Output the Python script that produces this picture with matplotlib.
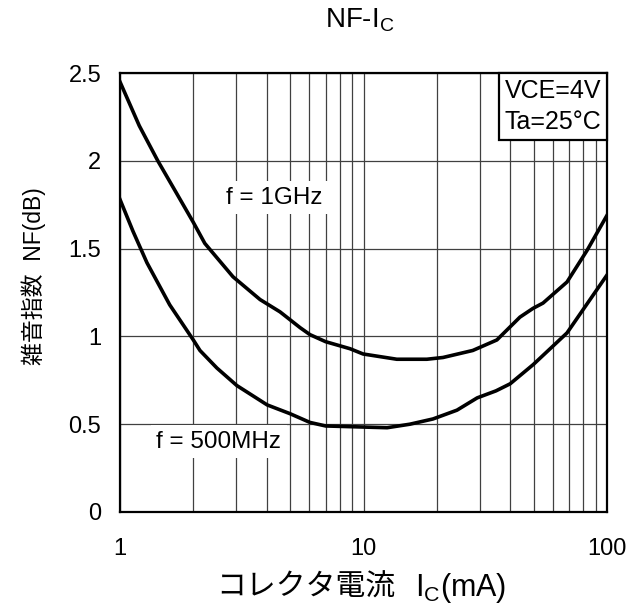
import matplotlib
matplotlib.use("Agg")
import matplotlib.pyplot as plt
from matplotlib.offsetbox import AnchoredText, AnchoredOffsetbox, TextArea, HPacker

plt.rcParams['font.family'] = ['Liberation Sans', 'Noto Sans CJK JP', 'DejaVu Sans']
plt.rcParams['mathtext.fontset'] = 'custom'
plt.rcParams['mathtext.rm'] = 'Liberation Sans'
plt.rcParams['mathtext.it'] = 'Liberation Sans'

# NF vs Ic
ic_1g = [1, 1.2, 1.43, 1.7, 2.0, 2.23, 2.91, 3.76, 4.54, 5.49, 6.03, 6.99, 8.8, 9.96,
         13.7, 18.2, 21.2, 28.1, 35.3, 43.9, 49.7, 54.6, 68.5, 82.8, 100]
nf_1g = [2.45, 2.2, 2.0, 1.82, 1.65, 1.53, 1.34, 1.21, 1.14, 1.05, 1.01, 0.97, 0.93, 0.90,
         0.87, 0.87, 0.88, 0.92, 0.98, 1.11, 1.16, 1.19, 1.31, 1.49, 1.69]

ic_500m = [1, 1.13, 1.29, 1.6, 2.0, 2.13, 2.5, 3.02, 4.02, 4.99, 6.03, 6.99, 12.5, 15.5,
           19.3, 24.2, 29.3, 35, 40, 49.8, 68.5, 100]
nf_500m = [1.78, 1.6, 1.42, 1.18, 0.98, 0.92, 0.82, 0.72, 0.61, 0.56, 0.51, 0.49, 0.48, 0.50,
           0.53, 0.58, 0.65, 0.69, 0.73, 0.84, 1.02, 1.35]

xticks = [1, 10, 100]
yticks = [0, 0.5, 1, 1.5, 2, 2.5]

fig = plt.figure(figsize=(6.41, 6.09), dpi=100)
ax = fig.add_axes([0.1872, 0.1593, 0.7598, 0.7207])

ax.plot(ic_1g, nf_1g, color='black', lw=2.6, solid_joinstyle='round', zorder=3)
ax.plot(ic_500m, nf_500m, color='black', lw=2.6, solid_joinstyle='round', zorder=3)

ax.set_xscale('log')
ax.set_xlim(1, 100)
ax.set_ylim(0, 2.5)
ax.set_xticks(xticks)
ax.set_xticklabels(['1', '10', '100'])
ax.set_yticks(yticks)
ax.set_yticklabels(['0', '0.5', '1', '1.5', '2', '2.5'])
ax.minorticks_on()
ax.yaxis.set_minor_locator(matplotlib.ticker.NullLocator())
ax.xaxis.set_minor_formatter(matplotlib.ticker.NullFormatter())
ax.tick_params(which='both', length=0, labelsize=17)
ax.tick_params(axis='x', pad=19)
ax.tick_params(axis='y', pad=13.5)
ax.grid(True, which='both', color='0.25', lw=0.9)
ax.set_axisbelow(True)
for s in ax.spines.values():
    s.set_linewidth(1.6)

fig.text(0.562, 1 - 20 / 609, 'NF-I$_\\mathrm{C}$', fontsize=20, ha='center', va='center')

# x label: japanese part + mathtext subscript part
xl = HPacker(children=[TextArea('コレクタ電流', textprops=dict(size=21.5, family='Noto Sans CJK JP')),
                       TextArea('I$_\\mathrm{C}$(mA)', textprops=dict(size=22))],
             align='baseline', pad=0, sep=14)
xbox = AnchoredOffsetbox(loc='center', child=xl, frameon=False, pad=0, borderpad=0,
                         bbox_to_anchor=(361 / 641, 1 - 588 / 609),
                         bbox_transform=fig.transFigure)
fig.add_artist(xbox)

ax.set_ylabel('雑音指数  NF(dB)', fontsize=16.5)
ax.yaxis.set_label_coords(-0.152, 0.538)

box = dict(facecolor='white', edgecolor='none', pad=4)
ax.text(4.29, 1.79, 'f = 1GHz', fontsize=17.5, ha='center', va='center', bbox=box, zorder=2)
ax.text(2.55, 0.40, 'f = 500MHz', fontsize=17.5, ha='center', va='center', bbox=box, zorder=2)

at = AnchoredText('VCE=4V\nTa=25°C', loc='upper right', borderpad=0, pad=0.22,
                  prop=dict(size=18, linespacing=1.4))
at.patch.set_linewidth(1.6)
ax.add_artist(at)

fig.savefig('out.png', dpi=100)
